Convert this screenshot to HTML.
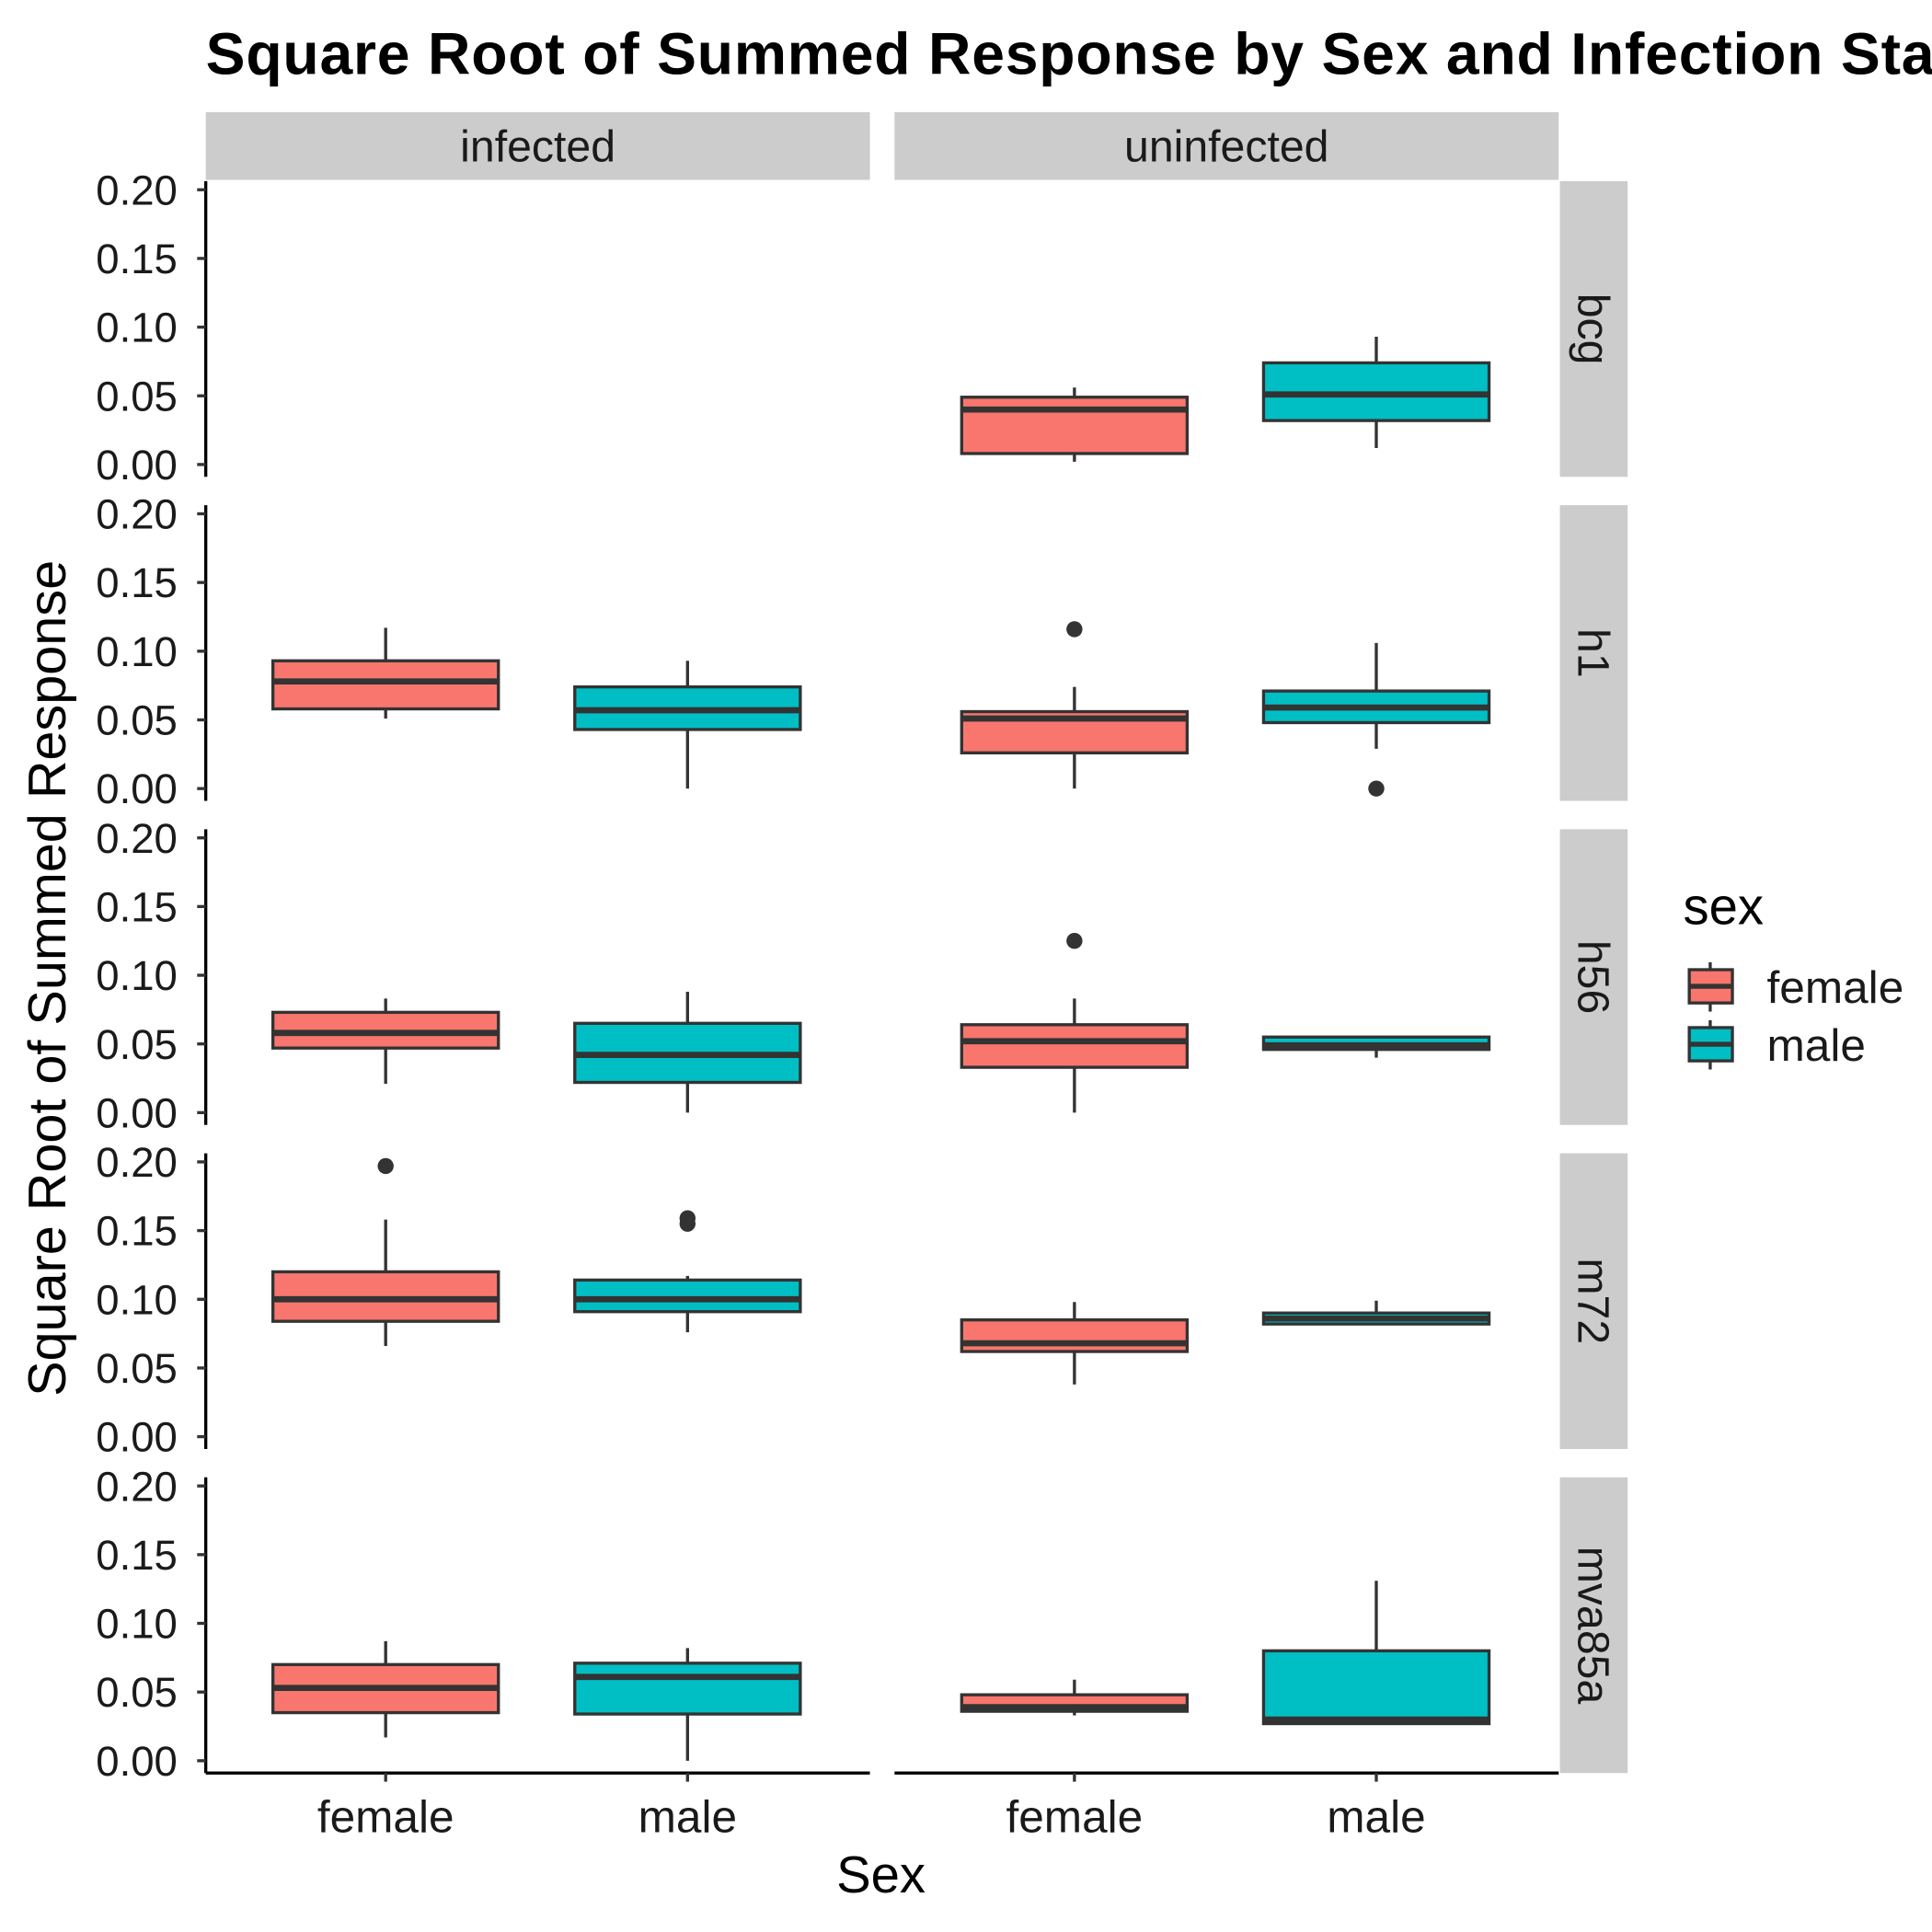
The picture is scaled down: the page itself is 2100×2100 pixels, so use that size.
<!DOCTYPE html>
<html><head><meta charset="utf-8"><style>html,body{margin:0;padding:0;background:#fff}svg{display:block}text{font-family:"Liberation Sans",Arial,sans-serif}</style></head>
<body>
<svg id="chart" width="2100" height="2100" viewBox="0 0 1568 1568" xmlns="http://www.w3.org/2000/svg"></svg>
<script>
const infections = ["infected","uninfected"];
const antigens = ["bcg","h1","h56","m72","mva85a"];
const sexes = ["female","male"];
const yTicks = [0,0.05,0.10,0.15,0.20];
const yTickLabels = ["0.00","0.05","0.10","0.15","0.20"];
// each entry: [antigen, infection, sex, ymin, q1, median, q3, ymax]
const boxStats = [
 ["bcg","uninfected","female",0.002,0.008,0.040,0.049,0.056],
 ["bcg","uninfected","male",0.012,0.032,0.051,0.074,0.093],
 ["h1","infected","female",0.051,0.058,0.078,0.093,0.117],
 ["h1","infected","male",0.000,0.043,0.057,0.074,0.093],
 ["h1","uninfected","female",0.000,0.026,0.051,0.056,0.074],
 ["h1","uninfected","male",0.029,0.048,0.059,0.071,0.106],
 ["h56","infected","female",0.021,0.047,0.058,0.073,0.083],
 ["h56","infected","male",0.000,0.022,0.042,0.065,0.088],
 ["h56","uninfected","female",0.000,0.033,0.052,0.064,0.083],
 ["h56","uninfected","male",0.040,0.046,0.049,0.055,0.056],
 ["m72","infected","female",0.066,0.084,0.100,0.120,0.158],
 ["m72","infected","male",0.076,0.091,0.100,0.114,0.117],
 ["m72","uninfected","female",0.038,0.062,0.068,0.085,0.098],
 ["m72","uninfected","male",0.082,0.082,0.086,0.090,0.099],
 ["mva85a","infected","female",0.017,0.035,0.053,0.070,0.087],
 ["mva85a","infected","male",0.000,0.034,0.061,0.071,0.082],
 ["mva85a","uninfected","female",0.033,0.036,0.039,0.048,0.059],
 ["mva85a","uninfected","male",0.026,0.027,0.030,0.080,0.131]
];
// outliers: [antigen, infection, sex, value]
const outliers = [
 ["h1","uninfected","female",0.116],
 ["h1","uninfected","male",0.000],
 ["h56","uninfected","female",0.125],
 ["m72","infected","female",0.197],
 ["m72","infected","male",0.159],
 ["m72","infected","male",0.155]
];
const fills = {female:"#F8766D", male:"#00BFC4"};
const NS="http://www.w3.org/2000/svg";
const svg=document.getElementById('chart');
function el(tag,attrs,parent){const e=document.createElementNS(NS,tag);for(const k in attrs)e.setAttribute(k,attrs[k]);(parent||svg).appendChild(e);return e;}
const colLeft=[167,726], colW=539, rowTop=[147,410,673,936,1199], rowH=240;
function yPos(r,v){return rowTop[r]+230-v*1115;}
function xPos(c,s){return colLeft[c]+146+s*245;}
const BW=183;
let t=el('text',{x:167,y:60,'font-size':48,'font-weight':'bold','letter-spacing':0.6,fill:'#000'});t.textContent="Square Root of Summed Response by Sex and Infection Status";


infections.forEach((inf,c)=>{
 const g=el('g',{});
 
 
 el('rect',{x:colLeft[c],y:91,width:colW,height:55,fill:'#CCCCCC'},g);
 const tx=el('text',{x:colLeft[c]+colW/2,y:131,'font-size':36,'text-anchor':'middle',fill:'#1a1a1a'},g);tx.textContent=inf;
});
antigens.forEach((ag,r)=>{
 const g=el('g',{});
 
 
 el('rect',{x:1266,y:rowTop[r],width:55,height:rowH,fill:'#CCCCCC'},g);
 const cy=rowTop[r]+rowH/2, cx=1281;
 const tx=el('text',{x:cx,y:cy,'font-size':36,'text-anchor':'middle',fill:'#1a1a1a',transform:`rotate(90 ${cx} ${cy})`},g);tx.textContent=ag;
 const ax=el('g',{});
 
 
 el('line',{x1:167,x2:167,y1:rowTop[r],y2:rowTop[r]+rowH,stroke:'#000','stroke-width':2.5},ax);
 yTicks.forEach((v,i)=>{
  const y=yPos(r,v);
  el('line',{x1:160,x2:167,y1:y,y2:y,stroke:'#333','stroke-width':2.5},ax);
  const l=el('text',{x:144,y:y+12,'font-size':34,'text-anchor':'end',fill:'#1a1a1a'},ax);l.textContent=yTickLabels[i];
 });
});
infections.forEach((inf,c)=>{
 const ax=el('g',{});
 
 
 el('line',{x1:colLeft[c],x2:colLeft[c]+colW,y1:1439,y2:1439,stroke:'#000','stroke-width':2.5},ax);
 sexes.forEach((s,i)=>{
  const x=xPos(c,i);
  el('line',{x1:x,x2:x,y1:1439,y2:1446,stroke:'#333','stroke-width':2.5},ax);
  const l=el('text',{x:x,y:1487,'font-size':37,'text-anchor':'middle',fill:'#1a1a1a'},ax);l.textContent=s;
 });
});
boxStats.forEach(b=>{
 const r=antigens.indexOf(b[0]), c=infections.indexOf(b[1]), s=sexes.indexOf(b[2]);
 const x=xPos(c,s);
 const g=el('g',{});
 
 
 el('line',{x1:x,x2:x,y1:yPos(r,b[3]),y2:yPos(r,b[7]),stroke:'#333','stroke-width':2.5},g);
 el('rect',{x:x-BW/2,y:yPos(r,b[6]),width:BW,height:yPos(r,b[4])-yPos(r,b[6]),fill:fills[b[2]],stroke:'#333','stroke-width':2.5},g);
 el('line',{x1:x-BW/2,x2:x+BW/2,y1:yPos(r,b[5]),y2:yPos(r,b[5]),stroke:'#333','stroke-width':5},g);
});
outliers.forEach(o=>{
 const r=antigens.indexOf(o[0]), c=infections.indexOf(o[1]), s=sexes.indexOf(o[2]);
 const p=el('circle',{cx:xPos(c,s),cy:yPos(r,o[3]),r:6.5,fill:'#333'});
 
 
});
let xt=el('text',{x:715,y:1536,'font-size':42,'text-anchor':'middle',fill:'#000'});xt.textContent="Sex";


let yt=el('text',{x:53,y:794,'font-size':43,'text-anchor':'middle',fill:'#000',transform:'rotate(-90 53 794)'});yt.textContent="Square Root of Summed Response";


const lg=el('g',{});


let lt=el('text',{x:1366,y:750,'font-size':42,fill:'#000'},lg);lt.textContent="sex";
sexes.forEach((s,i)=>{
 const y0=787+i*47;
 const e=el('g',{},lg);
 
 
 el('line',{x1:1388,x2:1388,y1:y0-6,y2:y0+34,stroke:'#333','stroke-width':2.5},e);
 el('rect',{x:1371,y:y0,width:35,height:27,fill:fills[s],stroke:'#333','stroke-width':2.5},e);
 el('line',{x1:1371,x2:1406,y1:y0+13.5,y2:y0+13.5,stroke:'#333','stroke-width':4},e);
 const tx=el('text',{x:1434,y:y0+27,'font-size':37,fill:'#1a1a1a'},e);tx.textContent=s;
});
</script>
</body></html>
